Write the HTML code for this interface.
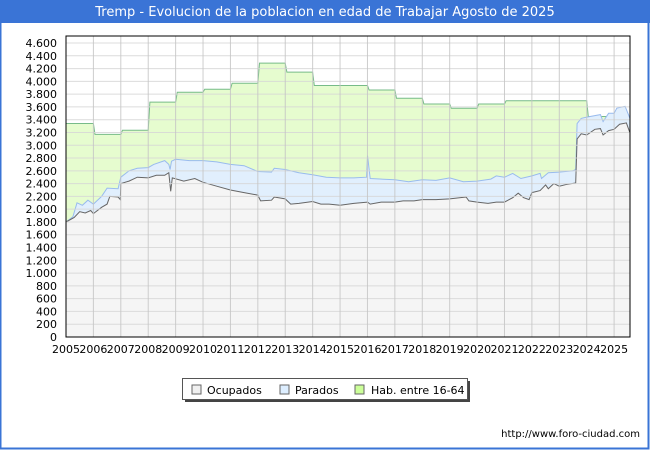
<!DOCTYPE html>
<html><head><meta charset="utf-8"><style>
body{margin:0;background:#fff;font-family:"Liberation Sans","DejaVu Sans",sans-serif}
svg text{font-family:"DejaVu Sans","Liberation Sans",sans-serif}
</style></head><body>
<svg id="c" width="650" height="450" viewBox="0 0 650 450" xmlns="http://www.w3.org/2000/svg">
<rect x="0" y="0" width="650" height="450" fill="#fff"/>
<rect x="0.5" y="0.5" width="648" height="448" fill="none" stroke="#3a74d6" stroke-width="2"/>
<rect x="0" y="0" width="650" height="23" fill="#3a74d6"/>
<text x="325" y="16" text-anchor="middle" font-size="13" fill="#fff">Tremp - Evolucion de la poblacion en edad de Trabajar Agosto de 2025</text>
<rect x="66" y="36" width="564" height="301" fill="#fff"/>
<g id="series"></g>
<g id="grid"></g>
<rect x="66" y="36" width="564" height="301" fill="none" stroke="#000" stroke-width="1"/>
<g id="axes"></g>
<g>
<rect x="185" y="381" width="285" height="21" fill="#444"/>
<rect x="182.5" y="378.5" width="285" height="21" fill="#fff" stroke="#555"/>
<rect x="192" y="385" width="9" height="9" fill="#f0f0f0" stroke="#666"/>
<text x="207" y="394" font-size="11">Ocupados</text>
<rect x="280" y="385" width="9" height="9" fill="#ddeeff" stroke="#666"/>
<text x="295" y="394" font-size="11">Parados</text>
<rect x="355" y="385" width="9" height="9" fill="#ccff99" stroke="#666"/>
<text x="371" y="394" font-size="11">Hab. entre 16-64</text>
</g>
<text x="640" y="437" text-anchor="end" font-size="10" fill="#000">http://www.foro-ciudad.com</text>
</svg>
<script>
const years=[2005,2006,2007,2008,2009,2010,2011,2012,2013,2014,2015,2016,2017,2018,2019,2020,2021,2022,2023,2024,2025];
const yTicks=[0,200,400,600,800,1000,1200,1400,1600,1800,2000,2200,2400,2600,2800,3000,3200,3400,3600,3800,4000,4200,4400,4600];
const yTickLabels=["0","200","400","600","800","1.000","1.200","1.400","1.600","1.800","2.000","2.200","2.400","2.600","2.800","3.000","3.200","3.400","3.600","3.800","4.000","4.200","4.400","4.600"];
const habYears=[2005,2006,2007,2008,2009,2010,2011,2012,2013,2014,2015,2016,2017,2018,2019,2020,2021,2022,2023,2024,2025];
const habValues=[3340,3170,3235,3675,3830,3875,3970,4285,4145,3935,3935,3865,3735,3645,3580,3645,3695,3695,3695,3450,3450];
const totTimes=[2005,2005.25,2005.4,2005.6,2005.8,2006,2006.3,2006.5,2006.9,2007,2007.3,2007.6,2008,2008.2,2008.6,2008.75,2008.8,2008.85,2009,2009.5,2010,2010.5,2011,2011.5,2012,2012.5,2012.6,2013,2013.5,2014,2014.5,2015,2015.5,2015.97,2016.0,2016.1,2017,2017.5,2018,2018.5,2019,2019.5,2020,2020.5,2020.7,2021,2021.3,2021.6,2022,2022.3,2022.35,2022.6,2023,2023.5,2023.6,2023.65,2023.8,2024,2024.5,2024.6,2024.8,2025,2025.1,2025.4,2025.58];
const totValues=[1800,1880,2100,2060,2140,2080,2200,2330,2320,2500,2600,2640,2650,2700,2760,2700,2620,2750,2780,2760,2760,2740,2700,2680,2590,2580,2640,2620,2570,2540,2500,2490,2490,2500,2840,2480,2460,2430,2460,2450,2490,2430,2440,2470,2520,2500,2560,2480,2520,2560,2480,2570,2580,2600,2620,3340,3420,3440,3480,3370,3500,3500,3580,3610,3420];
const ocuTimes=[2005,2005.3,2005.5,2005.7,2005.9,2006,2006.3,2006.5,2006.6,2006.9,2006.98,2007,2007.3,2007.6,2008,2008.3,2008.6,2008.75,2008.82,2008.88,2009.3,2009.7,2010,2010.5,2011,2011.5,2012,2012.1,2012.5,2012.6,2013,2013.2,2013.5,2014,2014.3,2014.6,2015,2015.5,2016,2016.1,2016.5,2017,2017.3,2017.7,2018,2018.5,2019,2019.6,2019.7,2020,2020.4,2020.7,2021,2021.3,2021.5,2021.7,2021.9,2022,2022.3,2022.5,2022.6,2022.8,2023,2023.3,2023.6,2023.65,2023.8,2024,2024.3,2024.5,2024.6,2024.8,2025,2025.2,2025.45,2025.58];
const ocuValues=[1800,1870,1960,1940,1980,1930,2030,2080,2200,2190,2150,2400,2440,2500,2490,2530,2530,2570,2280,2490,2440,2480,2420,2360,2300,2260,2220,2130,2140,2190,2160,2080,2090,2120,2080,2080,2060,2090,2110,2080,2110,2110,2130,2130,2150,2150,2160,2190,2130,2110,2090,2110,2110,2180,2250,2180,2150,2260,2290,2380,2320,2400,2360,2390,2410,3100,3180,3160,3250,3260,3160,3230,3250,3330,3350,3190];
const X0=66,X1=630,T0=2005,T1=2025.58,Y0=337,YTOP=43,VMAX=4600;
const xs=t=>X0+(t-T0)*(X1-X0)/(T1-T0);
const ys=v=>Y0-v*(Y0-YTOP)/VMAX;
const NS="http://www.w3.org/2000/svg";
function mk(tag,attrs,parent){const e=document.createElementNS(NS,tag);for(const k in attrs)e.setAttribute(k,attrs[k]);parent.appendChild(e);return e;}
const grid=document.getElementById('grid'),axes=document.getElementById('axes'),ser=document.getElementById('series');
yTicks.forEach((v,i)=>{const l=mk('line',{x1:X0,x2:X1,y1:ys(v),y2:ys(v),stroke:'#d6d6d6','stroke-width':1,'stroke-opacity':0.85},grid);


const t=mk('text',{x:57,y:ys(v)+4,'text-anchor':'end','font-size':11},axes);t.textContent=yTickLabels[i];

});
years.forEach(y=>{const l=mk('line',{x1:xs(y),x2:xs(y),y1:36,y2:Y0,stroke:'#c4c4c4','stroke-width':1,'stroke-opacity':0.85},grid);


const t=mk('text',{x:xs(y),y:353,'text-anchor':'middle','font-size':11},axes);t.textContent=String(y);

});
const hp=[];habYears.forEach((y,i)=>{const s=i===0?y:y+0.06;const e=i===habYears.length-1?T1:habYears[i+1];hp.push([xs(s),ys(habValues[i])]);hp.push([xs(Math.min(e,T1)),ys(habValues[i])]);});
function area(pts,fill,stroke,name){const d='M'+pts.map(p=>p[0].toFixed(1)+','+p[1].toFixed(1)).join('L');
const a=mk('path',{d:d+'L'+pts[pts.length-1][0].toFixed(1)+','+Y0+'L'+pts[0][0].toFixed(1)+','+Y0+'Z',fill:fill},ser);


const l=mk('path',{d:d,fill:'none',stroke:stroke,'stroke-width':1},ser);

}
area(hp,'#e6fccf','#77bb88','hab');
area(totTimes.map((t,i)=>[xs(t),ys(totValues[i])]),'#e1effd','#99bbee','parados');
area(ocuTimes.map((t,i)=>[xs(t),ys(ocuValues[i])]),'#f5f5f5','#666666','ocupados');
</script>
</body></html>
